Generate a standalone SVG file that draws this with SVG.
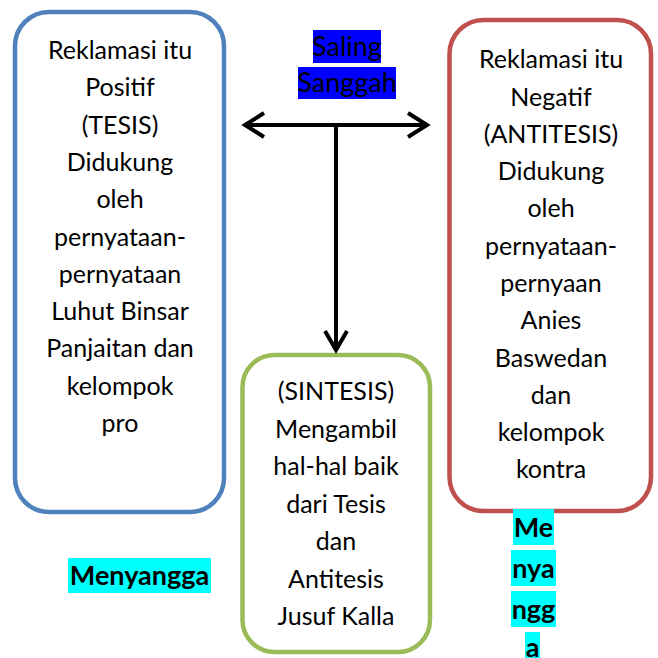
<svg xmlns="http://www.w3.org/2000/svg" width="658" height="658" viewBox="0 0 658 658">
<style>
.box{fill:#ffffff;stroke-width:4.5}
.t{font-family:Lato,"Open Sans",sans-serif;font-size:25px;fill:#000;text-anchor:middle}
.b{font-family:Lato,"Open Sans",sans-serif;font-size:27px;font-weight:bold;fill:#000;text-anchor:middle}
.s{font-family:Lato,"Open Sans",sans-serif;font-size:27px;fill:#000;text-anchor:middle}
.ln{fill:none;stroke:#000;stroke-width:4;stroke-linejoin:miter}
.cy{fill:#00FFFF}
.bl{fill:#0000FF}
</style>
<rect width="658" height="658" fill="#ffffff"/>
<g id="tesis">
<rect class="box" x="15" y="12" width="209" height="500" rx="34" ry="34" stroke="#4F81BD"/>
<text class="t" x="120" y="59">Reklamasi itu</text>
<text class="t" x="120" y="96.3">Positif</text>
<text class="t" x="120" y="133.6">(TESIS)</text>
<text class="t" x="120" y="170.9">Didukung</text>
<text class="t" x="120" y="208.2">oleh</text>
<text class="t" x="120" y="245.5">pernyataan-</text>
<text class="t" x="120" y="282.8">pernyataan</text>
<text class="t" x="120" y="320.1">Luhut Binsar</text>
<text class="t" x="120" y="357.4">Panjaitan dan</text>
<text class="t" x="120" y="394.7">kelompok</text>
<text class="t" x="120" y="432">pro</text>
</g>
<g id="antitesis">
<rect class="box" x="449.5" y="20" width="201.5" height="491" rx="34" ry="34" stroke="#C0504D"/>
<text class="t" x="551" y="68.3">Reklamasi itu</text>
<text class="t" x="551" y="105.6">Negatif</text>
<text class="t" x="551" y="142.8">(ANTITESIS)</text>
<text class="t" x="551" y="180.1">Didukung</text>
<text class="t" x="551" y="217.4">oleh</text>
<text class="t" x="551" y="254.6">pernyataan-</text>
<text class="t" x="551" y="291.9">pernyaan</text>
<text class="t" x="551" y="329.2">Anies</text>
<text class="t" x="551" y="366.5">Baswedan</text>
<text class="t" x="551" y="403.7">dan</text>
<text class="t" x="551" y="441">kelompok</text>
<text class="t" x="551" y="478.3">kontra</text>
</g>
<g id="sintesis">
<rect class="box" x="242.5" y="355" width="187.5" height="297" rx="32" ry="32" stroke="#9BBB59"/>
<text class="t" x="336" y="400">(SINTESIS)</text>
<text class="t" x="336" y="437.5">Mengambil</text>
<text class="t" x="336" y="475">hal-hal baik</text>
<text class="t" x="336" y="512.5">dari Tesis</text>
<text class="t" x="336" y="550">dan</text>
<text class="t" x="336" y="587.5">Antitesis</text>
<text class="t" x="336" y="625">Jusuf Kalla</text>
</g>
<g id="connectors">
<line class="ln" x1="245" y1="125" x2="427" y2="125"/>
<polyline class="ln" points="264,113 245,125 264,137"/>
<polyline class="ln" points="408,113 427,125 408,137"/>
<line class="ln" x1="336" y1="125" x2="336" y2="350"/>
<polyline class="ln" points="325,331 336,350 347,331"/>
</g>
<g id="saling-sanggah">
<rect class="bl" x="313" y="30" width="68" height="33"/>
<rect class="bl" x="298" y="67" width="98" height="32"/>
<text class="s" x="347" y="56">Saling</text>
<text class="s" x="347" y="92">Sanggah</text>
</g>
<g id="menyangga-left">
<rect class="cy" x="68" y="558" width="143" height="35"/>
<text class="b" x="139.5" y="585">Menyangga</text>
</g>
<g id="menyangga-right">
<rect class="cy" x="513" y="509" width="41" height="36"/>
<rect class="cy" x="511" y="550" width="45" height="36"/>
<rect class="cy" x="511" y="591" width="45" height="36"/>
<rect class="cy" x="525" y="632" width="15" height="26"/>
<text class="b" x="533.5" y="537">Me</text>
<text class="b" x="533.5" y="578">nya</text>
<text class="b" x="533.5" y="619">ngg</text>
<text class="b" x="532.5" y="657">a</text>
</g>
</svg>
